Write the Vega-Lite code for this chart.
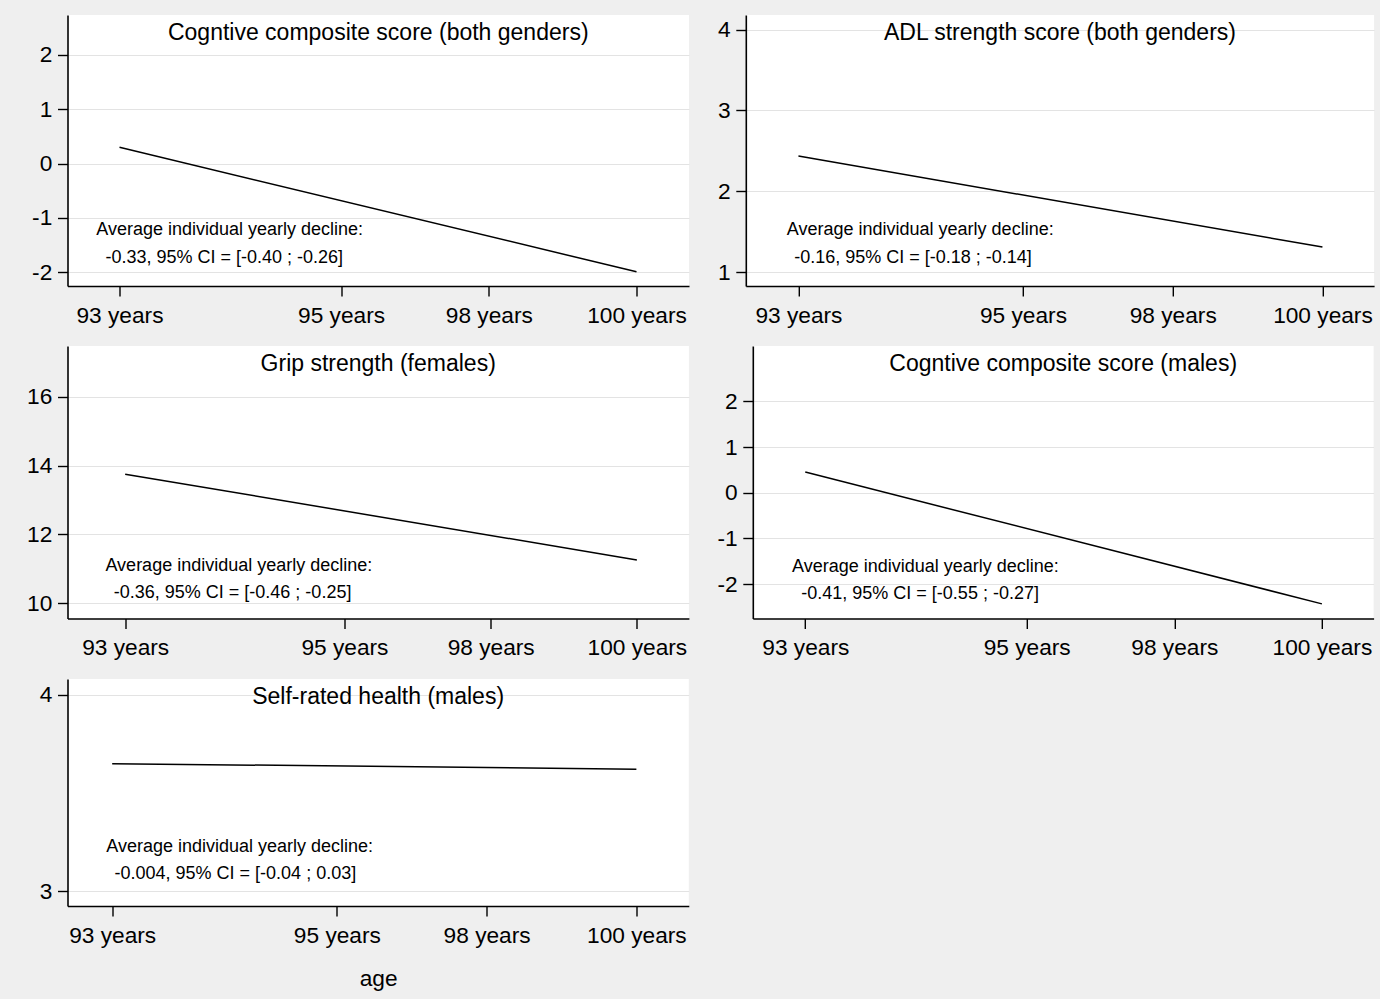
{
  "$schema": "https://vega.github.io/schema/vega-lite/v6.json",
  "background": "#efefef",
  "padding": {"left": 26.5, "top": 15, "right": 6, "bottom": 8},
  "spacing": 19,
  "config": {
    "font": "Liberation Sans",
    "view": {"fill": "white", "stroke": null},
    "axis": {
      "domainColor": "black", "domainWidth": 1.6,
      "tickColor": "black", "tickWidth": 1.4, "tickSize": 10,
      "labelFont": "Liberation Sans", "labelFontSize": 22.7, "labelColor": "black",
      "labelFlush": false, "labelOverlap": false,
      "gridColor": "#e3e3e3", "gridWidth": 1.2,
      "titleFont": "Liberation Sans", "titleFontSize": 22.7, "titleFontWeight": "normal", "titleColor": "black"
    },
    "axisX": {"grid": false, "labelPadding": 8, "labelExpr": "datum.value == 0 ? '93 years' : datum.value == 3 ? '95 years' : datum.value == 5 ? '98 years' : '100 years'"},
    "axisY": {"grid": true, "labelPadding": 5.7, "labelExpr": "'' + datum.value"},
    "title": {"font": "Liberation Sans", "fontSize": 23, "fontWeight": "normal", "color": "black", "anchor": "middle", "frame": "group", "offset": -30}
  },
  "datasets": {
    "lines": [
      {"panel": "p1", "t": 0, "score": 0.30},
      {"panel": "p1", "t": 7, "score": -1.99},
      {"panel": "p2", "t": 0, "score": 2.436},
      {"panel": "p2", "t": 7, "score": 1.312},
      {"panel": "p3", "t": 0, "score": 13.75},
      {"panel": "p3", "t": 7, "score": 11.26},
      {"panel": "p4", "t": 0, "score": 0.453},
      {"panel": "p4", "t": 7, "score": -2.43},
      {"panel": "p5", "t": 0, "score": 3.649},
      {"panel": "p5", "t": 7, "score": 3.621}
    ],
    "notes": [
      {"panel": "p1", "x": -0.315, "y": -1.221, "note": "Average individual yearly decline:"},
      {"panel": "p1", "x": -0.19, "y": -1.736, "note": "-0.33, 95% CI = [-0.40 ; -0.26]"},
      {"panel": "p2", "x": -0.155, "y": 1.522, "note": "Average individual yearly decline:"},
      {"panel": "p2", "x": -0.057, "y": 1.177, "note": "-0.16, 95% CI = [-0.18 ; -0.14]"},
      {"panel": "p3", "x": -0.27, "y": 11.08, "note": "Average individual yearly decline:"},
      {"panel": "p3", "x": -0.156, "y": 10.31, "note": "-0.36, 95% CI = [-0.46 ; -0.25]"},
      {"panel": "p4", "x": -0.18, "y": -1.613, "note": "Average individual yearly decline:"},
      {"panel": "p4", "x": -0.054, "y": -2.218, "note": "-0.41, 95% CI = [-0.55 ; -0.27]"},
      {"panel": "p5", "x": -0.08, "y": 3.224, "note": "Average individual yearly decline:"},
      {"panel": "p5", "x": 0.031, "y": 3.089, "note": "-0.004, 95% CI = [-0.04 ; 0.03]"}
    ]
  },
  "vconcat": [
    {
      "spacing": 27.3,
      "hconcat": [
        {
          "width": 621.5, "height": 271,
          "title": {"text": "Cogntive composite score (both genders)"},
          "layer": [
            {
              "data": {"name": "lines"},
              "transform": [{"filter": "datum.panel === 'p1'"}],
              "mark": {"type": "line", "color": "black", "strokeWidth": 1.5},
              "encoding": {
                "x": {"field": "t", "type": "quantitative", "scale": {"domain": [-0.704, 7.711], "nice": false, "zero": false},
                      "axis": {"title": null, "values": [0, 3, 5, 7]}},
                "y": {"field": "score", "type": "quantitative", "scale": {"domain": [-2.252, 2.736], "nice": false, "zero": false},
                      "axis": {"title": null, "values": [-2, -1, 0, 1, 2]}}
              }
            },
            {
              "data": {"name": "notes"},
              "transform": [{"filter": "datum.panel === 'p1'"}],
              "mark": {"type": "text", "align": "left", "baseline": "middle", "fontSize": 18, "color": "black", "font": "Liberation Sans"},
              "encoding": {
                "x": {"field": "x", "type": "quantitative"},
                "y": {"field": "y", "type": "quantitative"},
                "text": {"field": "note"}
              }
            }
          ]
        },
        {
          "width": 628.3, "height": 271,
          "title": {"text": "ADL strength score (both genders)"},
          "layer": [
            {
              "data": {"name": "lines"},
              "transform": [{"filter": "datum.panel === 'p2'"}],
              "mark": {"type": "line", "color": "black", "strokeWidth": 1.5},
              "encoding": {
                "x": {"field": "t", "type": "quantitative", "scale": {"domain": [-0.703, 7.69], "nice": false, "zero": false},
                      "axis": {"title": null, "values": [0, 3, 5, 7]}},
                "y": {"field": "score", "type": "quantitative", "scale": {"domain": [0.83, 4.18], "nice": false, "zero": false},
                      "axis": {"title": null, "values": [1, 2, 3, 4]}}
              }
            },
            {
              "data": {"name": "notes"},
              "transform": [{"filter": "datum.panel === 'p2'"}],
              "mark": {"type": "text", "align": "left", "baseline": "middle", "fontSize": 18, "color": "black", "font": "Liberation Sans"},
              "encoding": {
                "x": {"field": "x", "type": "quantitative"},
                "y": {"field": "y", "type": "quantitative"},
                "text": {"field": "note"}
              }
            }
          ]
        }
      ]
    },
    {
      "spacing": 27.3,
      "hconcat": [
        {
          "width": 621.4, "height": 272.5,
          "title": {"text": "Grip strength (females)"},
          "layer": [
            {
              "data": {"name": "lines"},
              "transform": [{"filter": "datum.panel === 'p3'"}],
              "mark": {"type": "line", "color": "black", "strokeWidth": 1.5},
              "encoding": {
                "x": {"field": "t", "type": "quantitative", "scale": {"domain": [-0.789, 7.712], "nice": false, "zero": false},
                      "axis": {"title": null, "values": [0, 3, 5, 7]}},
                "y": {"field": "score", "type": "quantitative", "scale": {"domain": [9.56, 17.47], "nice": false, "zero": false},
                      "axis": {"title": null, "values": [10, 12, 14, 16]}}
              }
            },
            {
              "data": {"name": "notes"},
              "transform": [{"filter": "datum.panel === 'p3'"}],
              "mark": {"type": "text", "align": "left", "baseline": "middle", "fontSize": 18, "color": "black", "font": "Liberation Sans"},
              "encoding": {
                "x": {"field": "x", "type": "quantitative"},
                "y": {"field": "y", "type": "quantitative"},
                "text": {"field": "note"}
              }
            }
          ]
        },
        {
          "width": 620.8, "height": 272.5,
          "title": {"text": "Cogntive composite score (males)"},
          "layer": [
            {
              "data": {"name": "lines"},
              "transform": [{"filter": "datum.panel === 'p4'"}],
              "mark": {"type": "line", "color": "black", "strokeWidth": 1.5},
              "encoding": {
                "x": {"field": "t", "type": "quantitative", "scale": {"domain": [-0.711, 7.70], "nice": false, "zero": false},
                      "axis": {"title": null, "values": [0, 3, 5, 7]}},
                "y": {"field": "score", "type": "quantitative", "scale": {"domain": [-2.75, 3.21], "nice": false, "zero": false},
                      "axis": {"title": null, "values": [-2, -1, 0, 1, 2]}}
              }
            },
            {
              "data": {"name": "notes"},
              "transform": [{"filter": "datum.panel === 'p4'"}],
              "mark": {"type": "text", "align": "left", "baseline": "middle", "fontSize": 18, "color": "black", "font": "Liberation Sans"},
              "encoding": {
                "x": {"field": "x", "type": "quantitative"},
                "y": {"field": "y", "type": "quantitative"},
                "text": {"field": "note"}
              }
            }
          ]
        }
      ]
    },
    {
      "hconcat": [
        {
          "width": 621.3, "height": 227,
          "title": {"text": "Self-rated health (males)"},
          "layer": [
            {
              "data": {"name": "lines"},
              "transform": [{"filter": "datum.panel === 'p5'"}],
              "mark": {"type": "line", "color": "black", "strokeWidth": 1.5},
              "encoding": {
                "x": {"field": "t", "type": "quantitative", "scale": {"domain": [-0.597, 7.70], "nice": false, "zero": false},
                      "axis": {"title": "age", "titlePadding": 21, "values": [0, 3, 5, 7]}},
                "y": {"field": "score", "type": "quantitative", "scale": {"domain": [2.924, 4.08], "nice": false, "zero": false},
                      "axis": {"title": null, "values": [3, 4]}}
              }
            },
            {
              "data": {"name": "notes"},
              "transform": [{"filter": "datum.panel === 'p5'"}],
              "mark": {"type": "text", "align": "left", "baseline": "middle", "fontSize": 18, "color": "black", "font": "Liberation Sans"},
              "encoding": {
                "x": {"field": "x", "type": "quantitative"},
                "y": {"field": "y", "type": "quantitative"},
                "text": {"field": "note"}
              }
            }
          ]
        }
      ]
    }
  ]
}
